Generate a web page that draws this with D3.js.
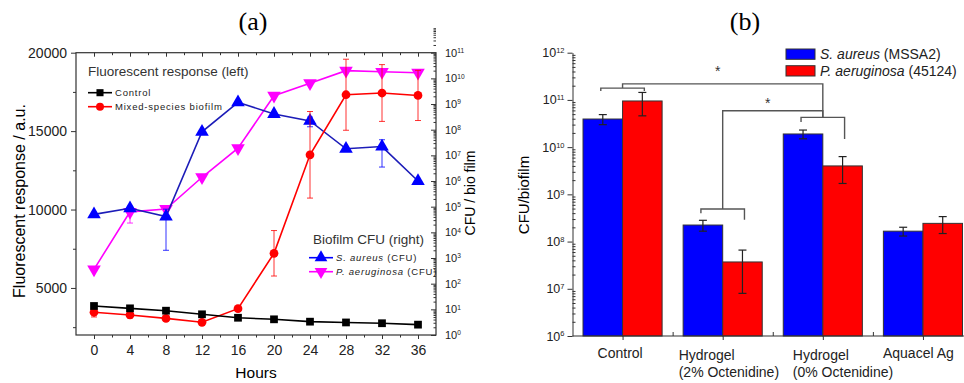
<!DOCTYPE html>
<html>
<head>
<meta charset="utf-8">
<script src="https://d3js.org/d3.v7.min.js"></script>
<style>
  body { margin: 0; background: #fff; }
  svg { display: block; font-family: "Liberation Sans", Arial, sans-serif; }
  .tick text { font-size: 14px; fill: #222; }
  .domain, .tick line { stroke: #333; }
</style>
</head>
<body>
<svg id="chart" width="964" height="383"></svg>
<script>
// ---- panel (a) data: fluorescence (left axis) and CFU (right axis, log) ----
var hours = [0, 4, 8, 12, 16, 20, 24, 28, 32, 36];
var controlFluor = [3850, 3700, 3550, 3320, 3100, 3000, 2850, 2800, 2750, 2660];
var controlErr   = [150, 100, 80, 80, 60, 50, 50, 50, 50, 80];
var mixedFluor   = [3450, 3280, 3060, 2810, 3680, 7210, 13490, 17320, 17430, 17275];
var mixedErr     = [300, 200, 100, 100, 100, 1450, 2760, 2265, 1810, 1600];
var saureusCfu   = [5.0e4, 8.7e4, 4.1e4, 8.3e7, 1.17e9, 4.1e8, 2.2e8, 1.8e7, 2.2e7, 1.0e6];
var saureusErr   = [0, 1.0e4, 3.9e4, 1.0e7, 1.5e8, 0.6e8, 0.9e8, 2.0e6, 1.85e7, 1.0e5];
var paerugCfu    = [363, 6.3e4, 8.1e4, 1.4e6, 1.9e7, 2.1e9, 6.5e9, 2.0e10, 1.8e10, 1.66e10];
var paerugErr    = [0, 4.0e4, 1.0e4, 1.0e5, 2.0e6, 2.0e8, 5.0e8, 3.0e9, 2.0e9, 1.5e9];
var fluorTicks = [5000, 10000, 15000, 20000];
var cfuDecadesA = d3.range(0, 12);

// ---- panel (b) data ----
var treatments = ["Control", "Hydrogel|(2% Octenidine)", "Hydrogel|(0% Octenidine)", "Aquacel Ag"];
var saMean = [3.94e10, 2.24e8, 1.9e10, 1.66e8];
var saSd   = [0.95e10, 0.58e8, 0.4e10, 0.35e8];
var paMean = [9.5e10, 3.7e7, 4.0e9, 2.43e8];
var paSd   = [4.9e10, 2.9e7, 2.3e9, 0.95e8];
var cfuDecadesB = d3.range(6, 13);
// significance brackets: group index, bracket level, left leg end, right leg end
var groupBrackets = [
  {g: 0, top: 1.78e11, legL: 1.55e11, legR: 1.55e11},
  {g: 1, top: 4.9e8, legL: 4.0e8, legR: 2.9e8},
  {g: 2, top: 4.27e10, legL: 3.4e10, legR: 1.48e10}
];
// links between groups: from group, to group, level, star level
var links = [
  {a: 0, b: 2, level: 2.19e11, star: 4.6e11},
  {a: 1, b: 2, level: 5.9e10, star: 9.5e10}
];

var svg = d3.select("#chart");

function supTick(sel, exps, anchor) {
  sel.each(function(d, i) {
    var t = d3.select(this).text("").attr("text-anchor", anchor);
    t.append("tspan").text("10");
    t.append("tspan").attr("dy", "-0.55em").style("font-size", "0.6em").text(Math.round(Math.log10(d)));
  });
}

// ================= panel (a) =================
var A = {l: 76, r: 436, t: 52.7, b: 335};
var xA = d3.scaleLinear().domain([-2, 38]).range([A.l, A.r]);
var yL = d3.scaleLinear().domain([2000, 20000]).range([A.b, A.t]);
var yR = d3.scaleLog().domain([1, 1e11]).range([A.b, A.t]);

svg.append("text").attr("x", 253).attr("y", 30).attr("text-anchor", "middle")
  .style("font-family", "'Liberation Serif', 'Times New Roman', serif").style("font-size", "26px").text("(a)");
svg.append("text").attr("x", 745).attr("y", 30).attr("text-anchor", "middle")
  .style("font-family", "'Liberation Serif', 'Times New Roman', serif").style("font-size", "26px").text("(b)");

var ga = svg.append("g");
ga.append("rect").attr("x", A.l).attr("y", A.t).attr("width", A.r - A.l).attr("height", A.b - A.t)
  .attr("fill", "none").attr("stroke", "#333").attr("stroke-width", 1.2);

// bottom axis with minor ticks
ga.append("g").attr("transform", "translate(0," + A.b + ")")
  .call(d3.axisBottom(xA).tickValues(hours).tickSize(4).tickSizeOuter(0).tickPadding(6))
  .call(g => g.select(".domain").remove());
ga.append("g").attr("transform", "translate(0," + A.b + ")")
  .call(d3.axisBottom(xA).tickValues(d3.range(2, 36, 4)).tickSize(2.5).tickFormat(""))
  .call(g => g.select(".domain").remove());
// top axis, inward
ga.append("g").attr("transform", "translate(0," + A.t + ")")
  .call(d3.axisTop(xA).tickValues(hours).tickSize(-4).tickFormat(""))
  .call(g => g.select(".domain").remove());
ga.append("g").attr("transform", "translate(0," + A.t + ")")
  .call(d3.axisTop(xA).tickValues(d3.range(2, 36, 4)).tickSize(-2.5).tickFormat(""))
  .call(g => g.select(".domain").remove());
// left axis
ga.append("g").attr("transform", "translate(" + A.l + ",0)")
  .call(d3.axisLeft(yL).tickValues(fluorTicks).tickSize(5).tickPadding(4).tickFormat(d3.format("d")))
  .call(g => g.select(".domain").remove());
ga.append("g").attr("transform", "translate(" + A.l + ",0)")
  .call(d3.axisLeft(yL).tickValues([2500, 7500, 12500, 17500]).tickSize(3).tickFormat(""))
  .call(g => g.select(".domain").remove());
// right log axis, ticks inward
var minorA = [];
cfuDecadesA.forEach(function(e) { for (var m = 2; m < 10; m++) minorA.push(m * Math.pow(10, e)); });
ga.append("g").attr("transform", "translate(" + A.r + ",0)")
  .call(d3.axisRight(yR).tickValues(minorA).tickSize(-2.5).tickFormat(""))
  .call(g => g.select(".domain").remove());
ga.append("g").attr("transform", "translate(" + A.r + ",0)")
  .call(d3.axisRight(yR).tickValues(d3.range(0, 12).map(e => Math.pow(10, e))).tickSize(-5).tickPadding(9))
  .call(g => g.select(".domain").remove())
  .call(g => g.selectAll(".tick text").style("font-size", "11px").call(supTick, null, "start"));

// axis titles
svg.append("text").attr("transform", "translate(25,201) rotate(-90)").attr("text-anchor", "middle")
  .style("font-size", "16px").text("Fluorescent response / a.u.");
svg.append("text").attr("x", 256).attr("y", 378).attr("text-anchor", "middle")
  .style("font-size", "15.5px").text("Hours");
svg.append("text").attr("transform", "translate(475,193) rotate(-90)").attr("text-anchor", "middle")
  .style("font-size", "14px").text("CFU / bio film");

function drawSeries(vals, errs, y, color, lineColor, symbol, rot, size) {
  var g = ga.append("g");
  var pts = hours.map((h, i) => ({x: h, v: vals[i], e: errs[i]}));
  g.selectAll("line.err").data(pts).join("line")
    .attr("x1", d => xA(d.x)).attr("x2", d => xA(d.x))
    .attr("y1", d => y(Math.max(d.v - d.e, y.domain()[0] * 1.0001))).attr("y2", d => y(d.v + d.e))
    .attr("stroke", color).attr("stroke-width", 1).attr("opacity", 0.8);
  ["lo", "hi"].forEach(function(k) {
    g.selectAll("line.cap" + k).data(pts.filter(d => d.e > 0)).join("line")
      .attr("x1", d => xA(d.x) - 3).attr("x2", d => xA(d.x) + 3)
      .attr("y1", d => y(k == "hi" ? d.v + d.e : d.v - d.e))
      .attr("y2", d => y(k == "hi" ? d.v + d.e : d.v - d.e))
      .attr("stroke", color).attr("stroke-width", 1).attr("opacity", 0.8);
  });
  g.append("path").datum(pts)
    .attr("d", d3.line().x(d => xA(d.x)).y(d => y(d.v)))
    .attr("fill", "none").attr("stroke", lineColor).attr("stroke-width", 1.6);
  g.selectAll("path.m").data(pts).join("path")
    .attr("transform", d => "translate(" + xA(d.x) + "," + y(d.v) + ") rotate(" + rot + ")")
    .attr("d", d3.symbol().type(symbol).size(size)).attr("fill", color);
}

drawSeries(paerugCfu, paerugErr, yR, "#ff00ff", "#ff00ff", d3.symbolTriangle, 180, 80);
drawSeries(saureusCfu, saureusErr, yR, "#0000ff", "#1c1cb8", d3.symbolTriangle, 0, 80);
drawSeries(mixedFluor, mixedErr, yL, "#ff0000", "#ff0000", d3.symbolCircle, 0, 60);
drawSeries(controlFluor, controlErr, yL, "#000000", "#000000", d3.symbolSquare, 0, 60);

// legends (a)
function legendEntry(x, y, color, symbol, rot, size, parts) {
  ga.append("line").attr("x1", x).attr("x2", x + 24).attr("y1", y).attr("y2", y)
    .attr("stroke", color).attr("stroke-width", 1.6);
  ga.append("path").attr("transform", "translate(" + (x + 12) + "," + y + ") rotate(" + rot + ")")
    .attr("d", d3.symbol().type(symbol).size(size)).attr("fill", color);
  var t = ga.append("text").attr("x", x + 27).attr("y", y + 3.5)
    .style("font-size", "9.5px").style("letter-spacing", "0.8px").attr("fill", "#222");
  parts.forEach(p => t.append("tspan").style("font-style", p[1] ? "italic" : "normal").text(p[0]));
}
ga.append("text").attr("x", 88).attr("y", 76).style("font-size", "13.5px").attr("fill", "#333")
  .text("Fluorescent response (left)");
legendEntry(88, 92.7, "#000", d3.symbolSquare, 0, 50, [["Control", false]]);
legendEntry(88, 106.7, "#ff0000", d3.symbolCircle, 0, 50, [["Mixed-species biofilm", false]]);
ga.append("text").attr("x", 313).attr("y", 244).style("font-size", "13.5px").attr("fill", "#333")
  .text("Biofilm CFU (right)");
legendEntry(309, 257.7, "#0000ff", d3.symbolTriangle, 0, 70, [["S. aureus", true], [" (CFU)", false]]);
legendEntry(309, 271.7, "#ff00ff", d3.symbolTriangle, 180, 70, [["P. aeruginosa", true], [" (CFU)", false]]);

// ================= panel (b) =================
var B = {l: 572.5, r: 973, t: 52.7, b: 336};
var xB = d3.scaleBand().domain(treatments).range([B.l, B.r]).paddingInner(0.21).paddingOuter(0.105);
var xSub = d3.scaleBand().domain(["sa", "pa"]).range([0, xB.bandwidth()]);
var yB = d3.scaleLog().domain([1e6, 1e12]).range([B.b, B.t]);
var gb = svg.append("g");

var bars = [];
treatments.forEach(function(t, i) {
  bars.push({t: t, k: "sa", v: saMean[i], e: saSd[i], c: "#0000ff"});
  bars.push({t: t, k: "pa", v: paMean[i], e: paSd[i], c: "#ff0000"});
});
gb.selectAll("rect.bar").data(bars).join("rect")
  .attr("x", d => xB(d.t) + xSub(d.k)).attr("width", xSub.bandwidth())
  .attr("y", d => yB(d.v)).attr("height", d => B.b - yB(d.v))
  .attr("fill", d => d.c).attr("stroke", "#333").attr("stroke-width", 1);
var cx = d => xB(d.t) + xSub(d.k) + xSub.bandwidth() / 2;
gb.selectAll("line.err").data(bars).join("line")
  .attr("x1", cx).attr("x2", cx).attr("y1", d => yB(d.v - d.e)).attr("y2", d => yB(d.v + d.e))
  .attr("stroke", "#222").attr("stroke-width", 1.2);
["lo", "hi"].forEach(function(k) {
  gb.selectAll("line.cap" + k).data(bars).join("line")
    .attr("x1", d => cx(d) - 4).attr("x2", d => cx(d) + 4)
    .attr("y1", d => yB(k == "hi" ? d.v + d.e : d.v - d.e)).attr("y2", d => yB(k == "hi" ? d.v + d.e : d.v - d.e))
    .attr("stroke", "#222").attr("stroke-width", 1.2);
});

// axes (b)
var minorB = [];
d3.range(6, 12).forEach(function(e) { for (var m = 2; m < 10; m++) minorB.push(m * Math.pow(10, e)); });
gb.append("g").attr("transform", "translate(" + B.l + ",0)")
  .call(d3.axisRight(yB).tickValues(minorB).tickSize(3).tickFormat(""))
  .call(g => g.select(".domain").remove());
gb.append("g").attr("transform", "translate(" + B.l + ",0)")
  .call(d3.axisLeft(yB).tickValues(cfuDecadesB.map(e => Math.pow(10, e))).tickSize(5).tickPadding(3).tickSizeOuter(0))
  .call(g => g.selectAll(".tick text").style("font-size", "12.5px").call(supTick, null, "end"));
var groupCentre = t => xB(t) + xB.bandwidth() / 2;
gb.append("g").attr("transform", "translate(0," + B.b + ")")
  .call(d3.axisBottom(d3.scaleIdentity()).tickValues(treatments.map(groupCentre)).tickSize(4).tickFormat(""))
  .call(g => g.select(".domain").remove());
gb.append("g").attr("transform", "translate(0," + B.b + ")")
  .call(d3.axisTop(d3.scaleIdentity()).tickValues(treatments.slice(1).map(t => xB(t) - xB.step() * xB.paddingInner() / 2)).tickSize(4).tickFormat(""))
  .call(g => g.select(".domain").remove());
gb.append("line").attr("x1", B.l).attr("x2", B.r).attr("y1", B.b).attr("y2", B.b)
  .attr("stroke", "#333").attr("stroke-width", 1.2);

// category labels (left aligned blocks as in the figure)
var labelDx = [-25, -44, -30, -40];
treatments.forEach(function(t, i) {
  var lines = t.split("|");
  var txt = gb.append("text").attr("x", groupCentre(t) + labelDx[i]).attr("y", lines.length > 1 ? 360 : 358)
    .style("font-size", "14px").attr("fill", "#222");
  lines.forEach((s, j) => txt.append("tspan").attr("x", groupCentre(t) + labelDx[i]).attr("dy", j ? 17 : 0).text(s));
});

svg.append("text").attr("transform", "translate(529,195) rotate(-90)").attr("text-anchor", "middle")
  .style("font-size", "15px").text("CFU/biofilm");

// significance brackets
var bk = gb.append("g").attr("fill", "none").attr("stroke", "#555").attr("stroke-width", 1.4);
groupBrackets.forEach(function(b) {
  var t = treatments[b.g];
  var xl = xB(t) + xSub("sa") + xSub.bandwidth() / 2 - 2, xr = xB(t) + xSub("pa") + xSub.bandwidth() / 2 + 2;
  bk.append("path").attr("d", "M" + xl + "," + yB(b.legL) + "V" + yB(b.top) + "H" + xr + "V" + yB(b.legR));
});
links.forEach(function(l) {
  var xa = groupCentre(treatments[l.a]), xb = groupCentre(treatments[l.b]);
  var ba = groupBrackets.find(b => b.g == l.a), bb = groupBrackets.find(b => b.g == l.b);
  bk.append("path").attr("d", "M" + xa + "," + yB(ba.top) + "V" + yB(l.level) + "H" + xb + "V" + yB(bb.top));
  gb.append("text").attr("x", (xa + xb) / 2 - 5).attr("y", yB(l.star) + 7).attr("text-anchor", "middle")
    .style("font-size", "14px").attr("fill", "#333").text("*");
});

// legend (b)
var legB = [["S. aureus", " (MSSA2)", "#0000ff"], ["P. aeruginosa", " (45124)", "#ff0000"]];
legB.forEach(function(d, i) {
  var y = 49 + i * 16.7;
  gb.append("rect").attr("x", 786).attr("y", y).attr("width", 29).attr("height", 10.3)
    .attr("fill", d[2]).attr("stroke", "#333").attr("stroke-width", 1);
  var t = gb.append("text").attr("x", 820).attr("y", y + 10).style("font-size", "14px").attr("fill", "#222");
  t.append("tspan").style("font-style", "italic").text(d[0]);
  t.append("tspan").text(d[1]);
});
</script>
</body>
</html>
